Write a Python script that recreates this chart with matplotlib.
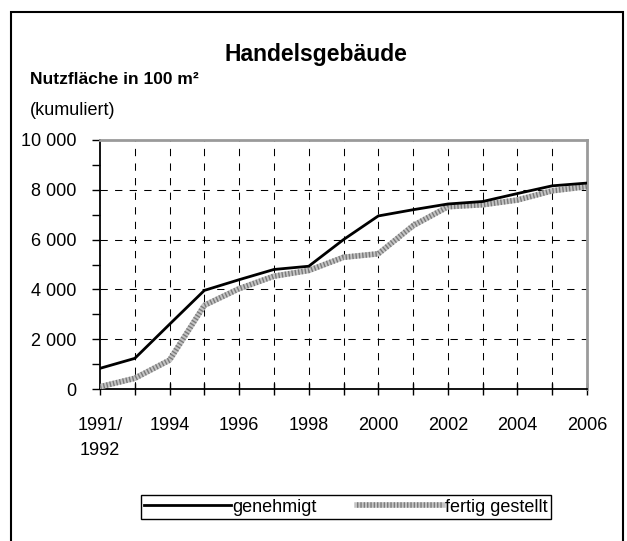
import numpy as np
import matplotlib.pyplot as plt
from matplotlib.patches import Rectangle
from matplotlib.legend_handler import HandlerTuple

plt.rcParams['font.family'] = ['Liberation Sans', 'DejaVu Sans']

# DATA
periods = ["1991/\n1992", "1993", "1994", "1995", "1996", "1997", "1998", "1999",
           "2000", "2001", "2002", "2003", "2004", "2005", "2006"]
genehmigt = [830, 1230, 2600, 3960, 4390, 4800, 4930, 6000, 6950, 7200, 7430, 7530, 7850, 8160, 8270]
fertig_gestellt = [90, 430, 1160, 3360, 4030, 4530, 4760, 5290, 5430, 6560, 7320, 7400, 7590, 7960, 8130]
y_ticks = [0, 2000, 4000, 6000, 8000, 10000]
y_tick_labels = ["0", "2 000", "4 000", "6 000", "8 000", "10 000"]

x = np.arange(len(periods))

fig = plt.figure(figsize=(6.27, 5.41), dpi=100)
ax = fig.add_axes([100/627, 1-389/541, 487/627, 249/541])

# grid (dashed) drawn first
for xi in x[1:-1]:
    ax.axvline(xi, color="black", lw=0.75, ls=(0, (7, 7)), zorder=1)
for yi in y_ticks[1:-1]:
    ax.axhline(yi, color="black", lw=0.75, ls=(0, (7, 7)), zorder=1)

# lines (the grey one gets a dotted texture on top)
l1, = ax.plot(x, genehmigt, color="black", lw=2.0, zorder=4)
l2a, = ax.plot(x, fertig_gestellt, color="#c4c4c4", lw=4, zorder=3)
l2b, = ax.plot(x, fertig_gestellt, color="#7a7a7a", lw=4, ls=(0, (0.25, 0.35)), zorder=3)

ax.set_xlim(0, 14)
ax.set_ylim(0, 10000)

# axes / spines
ax.spines["left"].set_linewidth(1.3)
ax.spines["bottom"].set_linewidth(1.3)
ax.spines["top"].set_color("#9a9a9a")
ax.spines["right"].set_color("#9a9a9a")
ax.spines["top"].set_linewidth(2)
ax.spines["right"].set_linewidth(2)

ax.set_xticks(x)
ax.set_xticklabels([p if i % 2 == 0 else "" for i, p in enumerate(periods)], fontsize=13, linespacing=1.6)
ax.tick_params(axis="x", direction="inout", length=9, width=1, pad=16)

ax.set_yticks(y_ticks)
ax.set_yticklabels(y_tick_labels, fontsize=13)
ax.set_yticks(np.arange(0, 10001, 1000), minor=True)
ax.tick_params(axis="y", which="both", direction="out", length=6, width=1, pad=11)

# titles
fig.text(316/627, 1-55/541, "Handelsgebäude", fontsize=16.5, fontweight="bold", ha="center", va="center")
fig.text(30/627, 1-80/541, "Nutzfläche in 100 m²", fontsize=12.5, fontweight="bold", ha="left", va="center")
fig.text(30/627, 1-111/541, "(kumuliert)", fontsize=13, ha="left", va="center")

# legend
leg = fig.legend([l1, (l2a, l2b)], ["genehmigt", "fertig gestellt"],
                 handler_map={tuple: HandlerTuple(ndivide=1, pad=0)},
                 loc="center", bbox_to_anchor=(346/627, 1-507/541), ncol=2,
                 fontsize=13, handlelength=4.8, handletextpad=0.1, columnspacing=2.2,
                 borderpad=0.2, fancybox=False, edgecolor="black", framealpha=1)
leg.get_frame().set_linewidth(1)

# outer frame
fig.patches.append(Rectangle((11/627, -0.02), 612/627, 1.02-12/541, transform=fig.transFigure,
                             fill=False, edgecolor="black", lw=1.5))

plt.savefig("out.png", dpi=100)
